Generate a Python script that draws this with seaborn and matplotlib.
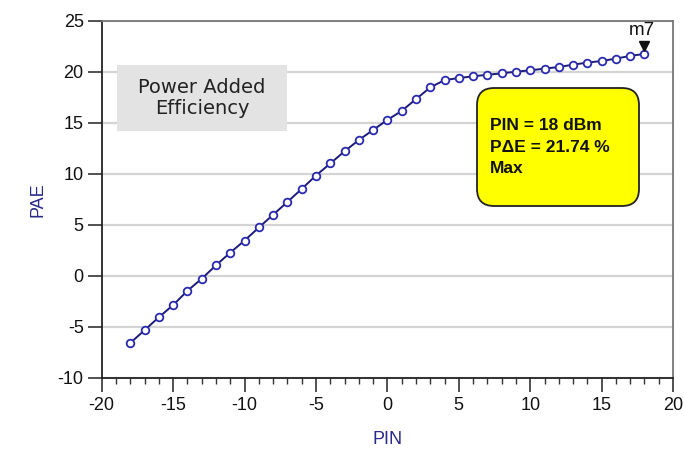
import matplotlib
matplotlib.use("Agg")
import matplotlib.pyplot as plt
import matplotlib.transforms as mtransforms
from matplotlib.patches import FancyBboxPatch
from matplotlib.ticker import MultipleLocator
import seaborn as sns
import pandas as pd

# ---- data ----
pin = list(range(-18, 19))
pae = [-6.57, -5.32, -4.05, -2.86, -1.46, -0.28, 1.04, 2.28, 3.46, 4.74,
       5.99, 7.24, 8.52, 9.83, 11.01, 12.2, 13.31, 14.29, 15.28, 16.16,
       17.31, 18.46, 19.18, 19.38, 19.55, 19.7, 19.84, 20.0, 20.14, 20.3,
       20.46, 20.69, 20.89, 21.05, 21.28, 21.55, 21.74]
x_ticks = [-20, -15, -10, -5, 0, 5, 10, 15, 20]
y_ticks = [-10, -5, 0, 5, 10, 15, 20, 25]
marker_name = "m7"
marker_pin = 18
marker_pae = 21.74
title_text = "Power Added\nEfficiency"
info_text = "PIN = 18 dBm\nPΔE = 21.74 %\nMax"

df = pd.DataFrame({"PIN": pin, "PAE": pae})

sns.set_theme(style="white")
plt.rcParams["font.family"] = ["Liberation Sans", "DejaVu Sans"]
plt.rcParams["axes.unicode_minus"] = False

fig = plt.figure(figsize=(6.84, 4.59), dpi=100)
ax = fig.add_axes([0.1487, 0.1765, 0.9840 - 0.1487, 0.955 - 0.1765])

sns.lineplot(data=df, x="PIN", y="PAE", ax=ax, color="#1c1c78", linewidth=1.4,
             marker="o", markersize=5.5, markerfacecolor="white",
             markeredgecolor="#2a2ab0", markeredgewidth=1.3, zorder=3)

ax.set_xlim(-20, 20)
ax.set_ylim(-10, 25)
ax.set_xticks(x_ticks)
ax.set_yticks(y_ticks)
ax.xaxis.set_minor_locator(MultipleLocator(1))
ax.tick_params(axis="both", which="major", direction="out", length=10, width=1.2,
               color="#333333", labelsize=13, labelcolor="#111111", pad=3)
ax.tick_params(axis="x", which="minor", direction="out", length=4.5, width=1.0,
               color="#333333", bottom=True)
ax.tick_params(axis="x", which="major", pad=4, bottom=True)
ax.tick_params(axis="y", which="major", left=True)

ax.grid(axis="y", color="#d4d4d4", linewidth=1.6)
ax.grid(axis="x", visible=False)

for side in ["left", "bottom"]:
    ax.spines[side].set_color("#222222")
    ax.spines[side].set_linewidth(1.3)
for side in ["top", "right"]:
    ax.spines[side].set_color("#777777")
    ax.spines[side].set_linewidth(1.3)

ax.set_xlabel("PIN", fontsize=13, color="#2a2a8a", labelpad=12)
ax.set_ylabel("PAE", fontsize=13, color="#2a2a8a", labelpad=8)

# title box
fig.patches.append(plt.Rectangle((117 / 684, 1 - 131 / 459), 170 / 684, 66 / 459,
                                 transform=fig.transFigure, facecolor="#e3e3e3",
                                 edgecolor="none", zorder=2))
fig.text(202 / 684, 1 - 98 / 459, title_text, ha="center", va="center",
         fontsize=14, color="#222222", family=["DejaVu Sans"], linespacing=1.15,
         zorder=3)

# info box
bx0, by0, bw, bh = 477 / 684, 1 - 206 / 459, 162 / 684, 118 / 459
box = FancyBboxPatch((bx0, by0), bw, bh, boxstyle="round,pad=0,rounding_size=0.025",
                     transform=fig.transFigure, facecolor="#ffff00",
                     edgecolor="#222222", linewidth=1.3, zorder=4,
                     mutation_aspect=684 / 459)
fig.patches.append(box)
fig.text(490 / 684, 1 - 147 / 459, info_text, ha="left", va="center",
         fontsize=12.5, color="#111111", linespacing=1.55, fontweight="bold",
         zorder=5)

# marker m7
offset = mtransforms.ScaledTranslation(0, 6 / 72, fig.dpi_scale_trans)
ax.plot([marker_pin], [marker_pae], marker="v", markersize=7, color="#111111",
        transform=ax.transData + offset, clip_on=False, zorder=5, linestyle="none")
ax.annotate(marker_name, xy=(marker_pin, marker_pae), xytext=(-2, 17),
            textcoords="offset points", ha="center", va="center", fontsize=13.5,
            color="#111111", annotation_clip=False)

fig.savefig("out.png", dpi=100)
